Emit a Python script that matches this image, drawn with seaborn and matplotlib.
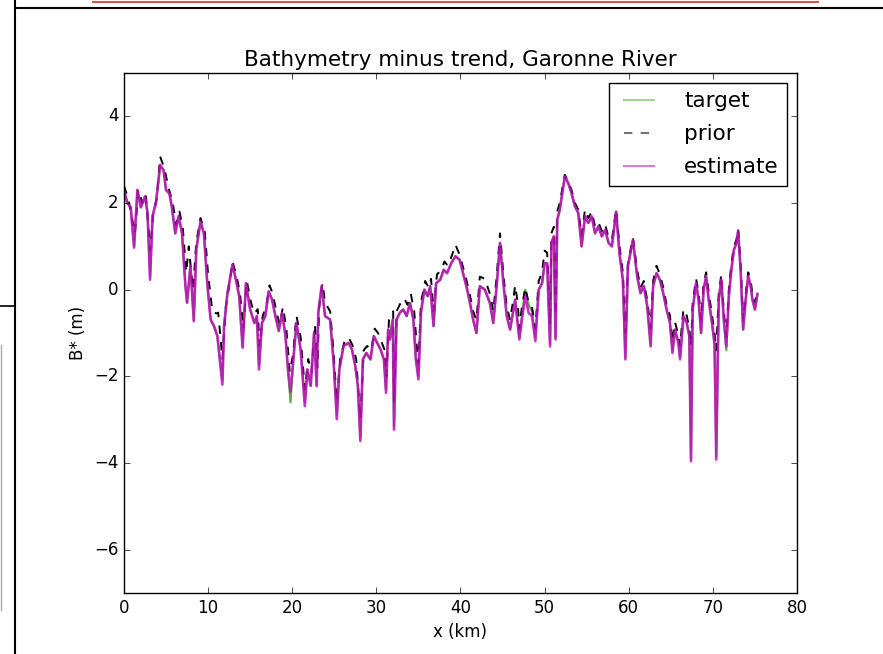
import matplotlib
matplotlib.use('Agg')
import matplotlib.pyplot as plt
from matplotlib.lines import Line2D
import pandas as pd
import seaborn as sns

# estimate / target share the same x grid (km)
est_x = [0.0, 0.4, 0.8, 1.2, 1.6, 2.0, 2.5, 2.8, 3.1, 3.4, 3.8, 4.3, 4.7, 5.0, 5.4, 5.7, 6.1, 6.5, 6.9,
         7.3, 7.5, 7.9, 8.3, 8.6, 9.1, 9.5, 9.9, 10.3, 10.7, 11.1, 11.7, 11.9, 12.3, 12.9, 13.3, 13.7, 14.1,
         14.5, 15.0, 15.5, 15.8, 16.05, 16.4, 16.8, 17.2, 17.6, 18.0, 18.4, 18.8, 19.2, 19.5, 19.8, 20.1,
         20.5, 21.0, 21.5, 21.8, 22.2, 22.6, 22.9, 23.1, 23.5, 23.9, 24.5, 24.9, 25.3, 25.6, 26.1, 26.7,
         27.1, 27.5, 27.8, 28.1, 28.4, 28.8, 29.3, 29.7, 30.1, 30.5, 30.9, 31.15, 31.4, 31.6, 31.95, 32.1,
         32.4, 32.8, 33.2, 33.6, 34.0, 34.4, 34.7, 35.0, 35.3, 35.7, 36.1, 36.4, 36.8, 37.1, 37.6, 38.0,
         38.4, 38.9, 39.4, 39.9, 40.4, 40.8, 41.2, 41.5, 41.9, 42.3, 42.9, 43.5, 43.9, 44.3, 44.7, 45.1,
         45.5, 45.9, 46.3, 46.5, 46.7, 47.0, 47.3, 47.7, 48.1, 48.5, 48.9, 49.3, 49.7, 50.0, 50.3, 50.65,
         50.8, 51.1, 51.3, 51.5, 51.8, 52.4, 52.8, 53.2, 53.6, 54.0, 54.4, 54.8, 55.2, 55.6, 56.0, 56.4,
         56.8, 57.2, 57.6, 58.0, 58.5, 58.9, 59.3, 59.6, 59.9, 60.5, 61.0, 61.4, 61.8, 62.2, 62.6, 62.9,
         63.3, 63.7, 64.1, 64.5, 64.9, 65.2, 65.5, 65.9, 66.1, 66.5, 66.9, 67.2, 67.4, 67.6, 68.0, 68.3,
         68.6, 68.9, 69.2, 69.5, 69.9, 70.2, 70.4, 70.7, 71.0, 71.3, 71.6, 71.9, 72.2, 72.5, 72.8, 73.0,
         73.3, 73.6, 73.9, 74.2, 74.5, 74.7, 75.0, 75.3]

estimate = [2.3, 2.0, 1.9, 0.97, 2.3, 1.9, 2.15, 1.77, 0.23, 1.7, 2.0, 2.88, 2.76, 2.3, 2.23, 1.9, 1.3, 1.7, 1.3,
            0.1, -0.3, 0.55, -0.73, 0.94, 1.57, 1.3, 0.15, -0.69, -0.84, -1.07, -2.19, -0.84, -0.08, 0.58, 0.23,
            -0.15, -1.34, 0.15, -0.46, -0.77, -0.61, -1.84, -0.77, -0.61, -0.04, -0.23, -0.61, -0.95, -0.54,
            -1.07, -1.84, -2.35, -1.69, -0.77, -1.38, -2.69, -1.84, -2.22, -0.99, -2.23, -0.53, 0.08, -0.61,
            -0.69, -1.61, -2.99, -1.84, -1.3, -1.23, -1.38, -1.77, -2.22, -3.49, -1.61, -1.46, -1.61, -1.07,
            -1.23, -1.38, -1.61, -2.38, -0.92, -1.15, -0.69, -3.23, -0.69, -0.53, -0.46, -0.61, -0.31, -0.69,
            -1.61, -2.07, -0.53, 0.0, -0.15, 0.08, -0.84, 0.15, 0.23, 0.46, 0.38, 0.61, 0.77, 0.69, 0.31, 0.0,
            -0.38, -0.69, -1.0, 0.08, 0.0, -0.31, -0.77, 0.08, 1.08, 0.15, -0.61, -0.92, -0.46, -0.23, -0.61,
            -1.15, -0.69, -0.15, -0.54, -0.61, -1.19, 0.0, 0.15, 0.61, 0.61, -1.31, 1.08, 1.23, -1.15, 1.61,
            1.84, 2.61, 2.46, 2.23, 1.92, 1.77, 1.0, 1.69, 1.54, 1.69, 1.3, 1.46, 1.23, 1.38, 1.08, 1.0, 1.8,
            0.84, 0.23, -1.61, 0.54, 1.15, 0.31, -0.08, 0.08, -0.38, -1.31, 0.08, 0.38, 0.23, -0.08, -0.46,
            -0.77, -1.46, -0.92, -1.23, -1.61, -0.61, -0.77, -1.07, -3.96, -0.46, 0.15, -0.23, -1.0, 0.0, 0.31,
            -0.23, -0.77, -1.23, -3.92, -0.23, 0.23, -0.69, -1.31, -0.15, 0.46, 0.92, 1.07, 1.34, 0.46, -0.92,
            -0.23, 0.31, 0.08, -0.23, -0.46, -0.1]

target = [2.3, 2.0, 1.9, 1.0, 2.3, 1.9, 2.15, 1.8, 0.3, 1.7, 2.0, 2.85, 2.76, 2.3, 2.2, 1.9, 1.3, 1.7, 1.3,
          0.1, -0.3, 0.55, -0.7, 0.94, 1.57, 1.3, 0.15, -0.69, -0.84, -1.07, -2.1, -0.84, -0.08, 0.58, 0.23,
          -0.15, -1.3, 0.15, -0.46, -0.77, -0.61, -1.75, -0.77, -0.61, -0.04, -0.23, -0.61, -0.95, -0.54,
          -1.07, -1.9, -2.6, -1.69, -0.77, -1.38, -2.6, -1.84, -2.22, -0.99, -2.2, -0.53, 0.08, -0.61,
          -0.69, -1.61, -2.9, -1.84, -1.3, -1.23, -1.38, -1.77, -2.22, -3.4, -1.61, -1.46, -1.61, -1.07,
          -1.23, -1.38, -1.61, -2.3, -0.92, -1.15, -0.69, -3.15, -0.69, -0.53, -0.46, -0.61, -0.31, -0.69,
          -1.61, -2.0, -0.53, 0.0, -0.15, 0.08, -0.84, 0.15, 0.23, 0.46, 0.38, 0.61, 0.77, 0.69, 0.31, 0.0,
          -0.38, -0.69, -1.0, 0.08, 0.0, -0.31, -0.77, 0.08, 1.08, 0.15, -0.61, -0.92, -0.46, -0.23, -0.61,
          -1.1, -0.6, 0.0, -0.35, -0.5, -1.1, 0.0, 0.15, 0.61, 0.61, -1.25, 1.08, 1.23, -1.1, 1.61,
          1.84, 2.61, 2.46, 2.23, 1.92, 1.77, 1.0, 1.69, 1.54, 1.69, 1.3, 1.46, 1.23, 1.38, 1.08, 1.0, 1.8,
          0.84, 0.23, -1.55, 0.54, 1.15, 0.31, -0.08, 0.08, -0.38, -1.25, 0.08, 0.38, 0.23, -0.08, -0.46,
          -0.77, -1.4, -0.92, -1.23, -1.55, -0.61, -0.77, -1.07, -3.9, -0.46, 0.15, -0.23, -1.0, 0.0, 0.31,
          -0.23, -0.77, -1.3, -3.85, -0.23, 0.23, -0.69, -1.4, -0.15, 0.46, 0.92, 1.07, 1.34, 0.46, -0.92,
          -0.23, 0.31, 0.08, -0.23, -0.46, -0.1]

prior_x = [0.0, 0.5, 1.0, 1.3, 1.7, 2.2, 2.6, 3.1, 3.5, 3.9, 4.3, 4.8, 5.3, 5.8, 6.2, 6.6, 7.0, 7.4, 7.7,
           8.2, 8.6, 9.1, 9.6, 10.0, 10.5, 11.0, 11.2, 11.7, 12.1, 12.6, 12.9, 13.4, 13.8, 14.2, 14.6, 15.1,
           15.5, 15.9, 16.1, 16.5, 16.9, 17.3, 17.7, 18.1, 18.5, 18.9, 19.3, 19.7, 20.1, 20.5, 21.0, 21.5,
           21.9, 22.3, 22.7, 23.0, 23.2, 23.6, 23.9, 24.5, 24.9, 25.3, 25.7, 26.2, 26.7, 27.2, 27.6, 28.1,
           28.5, 28.9, 29.4, 29.8, 30.2, 30.6, 31.0, 31.2, 31.5, 32.0, 32.1, 32.4, 32.9, 33.3, 33.7, 34.1,
           34.5, 34.8, 35.0, 35.3, 35.8, 36.2, 36.5, 36.8, 37.2, 37.7, 38.1, 38.5, 39.0, 39.4, 39.9, 40.4,
           40.8, 41.2, 41.5, 41.9, 42.3, 42.9, 43.5, 43.9, 44.3, 44.7, 45.1, 45.5, 45.9, 46.3, 46.5, 46.8,
           47.0, 47.3, 47.7, 48.1, 48.5, 48.9, 49.3, 49.7, 50.0, 50.3, 50.65, 50.8, 51.1, 51.3, 51.5, 51.8,
           52.4, 52.8, 53.2, 53.6, 54.0, 54.4, 54.8, 55.2, 55.6, 56.0, 56.4, 56.8, 57.2, 57.6, 58.0, 58.5,
           58.9, 59.3, 59.6, 59.9, 60.5, 61.0, 61.4, 61.8, 62.2, 62.6, 62.9, 63.3, 63.7, 64.1, 64.5, 64.9,
           65.2, 65.5, 65.9, 66.1, 66.5, 66.9, 67.2, 67.4, 67.6, 68.0, 68.3, 68.6, 68.9, 69.2, 69.5, 69.9,
           70.2, 70.4, 70.7, 71.0, 71.3, 71.6, 71.9, 72.2, 72.5, 72.8, 73.0, 73.3, 73.6, 73.9, 74.2, 74.5,
           74.7, 75.0, 75.3]

prior = [2.4, 2.1, 1.6, 1.3, 2.3, 2.0, 2.2, 0.9, 1.8, 2.1, 3.07, 2.8, 2.35, 2.0, 1.5, 1.8, 1.4, 0.4, 1.0,
         0.0, 1.1, 1.65, 1.35, 0.35, -0.5, -0.55, -0.53, -1.6, -0.4, 0.2, 0.65, 0.3, -0.1, -0.9, 0.2, -0.3,
         -0.55, -0.45, -1.3, -0.6, -0.4, 0.1, -0.1, -0.5, -0.8, -0.4, -0.9, -1.9, -1.5, -0.6, -1.1, -2.3,
         -1.6, -1.9, -0.8, -1.8, -0.4, 0.15, -0.3, -0.5, -1.4, -2.6, -1.6, -1.2, -1.1, -1.3, -1.6, -3.0,
         -1.4, -1.3, -1.4, -0.9, -1.0, -1.2, -1.4, -2.0, -0.7, -0.5, -2.6, -0.5, -0.3, -0.2, -0.35, -0.1,
         -0.5, -1.3, -1.7, -0.3, 0.2, 0.05, 0.25, -0.5, 0.35, 0.45, 0.65, 0.55, 0.8, 1.04, 0.8, 0.45,
         0.15, -0.2, -0.5, -0.7, 0.3, 0.25, -0.1, -0.5, 0.3, 1.3, 0.35, -0.4, -0.7, -0.2, 0.1, -0.3,
         -0.9, -0.4, 0.05, -0.3, -0.4, -0.9, 0.2, 0.4, 0.9, 0.85, -0.8, 1.3, 1.45, -0.6, 1.8, 2.0,
         2.65, 2.5, 2.3, 2.0, 1.85, 1.25, 1.85, 1.65, 1.8, 1.45, 1.55, 1.35, 1.5, 1.2, 1.15, 1.85,
         1.0, 0.4, -1.0, 0.6, 1.2, 0.45, 0.05, 0.2, -0.25, -0.9, 0.2, 0.55, 0.35, 0.05, -0.35, -0.6,
         -1.2, -0.75, -1.05, -1.3, -0.45, -0.6, -0.9, -1.3, -0.3, 0.25, -0.05, -0.7, 0.15, 0.4, -0.05, -0.6,
         -1.0, -1.4, -0.1, 0.35, -0.5, -1.1, 0.0, 0.6, 1.0, 1.15, 1.4, 0.55, -0.7, -0.1, 0.4, 0.2,
         -0.1, -0.3, 0.0]

plt.style.use('classic')
fig = plt.figure(figsize=(8.83, 6.54), dpi=100)
ax = fig.add_axes([0.1404, 0.0933, 0.7622, 0.7951])

df_est = pd.DataFrame({'x': est_x, 'target': target, 'estimate': estimate})
df_prior = pd.DataFrame({'x': prior_x, 'prior': prior})

sns.lineplot(data=df_est, x='x', y='target', ax=ax, color='#5cae3c', lw=1.5,
             estimator=None, sort=False, label='target')
sns.lineplot(data=df_prior, x='x', y='prior', ax=ax, color='k', lw=1.4,
             estimator=None, sort=False, label='prior')
ax.lines[-1].set_linestyle('--')
sns.lineplot(data=df_est, x='x', y='estimate', ax=ax, color='#c010c0', lw=1.9, alpha=0.85,
             estimator=None, sort=False, label='estimate')

ax.set_xlim(0, 80)
ax.set_ylim(-7, 5)
ax.set_xticks(range(0, 81, 10))
ax.set_yticks([-6, -4, -2, 0, 2, 4])
ax.set_yticklabels(['\u22126', '\u22124', '\u22122', '0', '2', '4'])
ax.set_title('Bathymetry minus trend, Garonne River', fontsize=15.5)
ax.set_xlabel('x (km)')
ax.set_ylabel('B* (m)')
leg = ax.legend(loc='upper right', fontsize=15.5, handlelength=2.0, handletextpad=1.1,
                labelspacing=0.6, borderaxespad=0.45)
for h in leg.get_lines():
    h.set_alpha(0.55)
    h.set_linewidth(1.5)

# page border remnants from the scan
for xs, ys, c, w in [([93, 818], [1.5, 1.5], '#e05050', 1.5),
                     ([15, 883], [8, 8], 'k', 1.5),
                     ([15, 15], [0, 654], 'k', 1.5),
                     ([0, 15], [306, 306], 'k', 1.2),
                     ([1, 1], [345, 610], '#aaaaaa', 1.0)]:
    fig.add_artist(Line2D([x / 883 for x in xs], [1 - y / 654 for y in ys],
                          color=c, lw=w, transform=fig.transFigure))

fig.savefig('out.png', dpi=100)
